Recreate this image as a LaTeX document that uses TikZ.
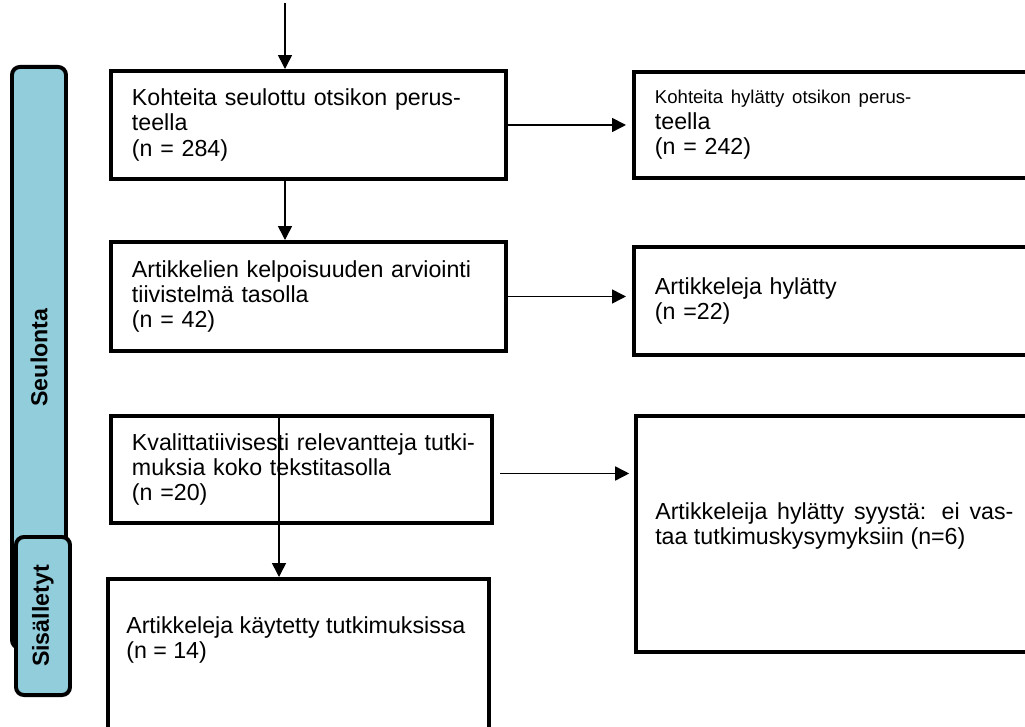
\documentclass[tikz,border=0pt]{standalone}
\usepackage{fontspec}
\setmainfont{Liberation Sans}
\usetikzlibrary{arrows.meta}
\definecolor{sideblue}{RGB}{146,205,220}
\begin{document}
\begin{tikzpicture}[x=0.025cm,y=-0.025cm,
        box/.style={draw,line width=2.8pt,anchor=north west,inner xsep=0.525cm,inner ysep=0pt,align=left,font=\fontsize{16.5}{18.1}\selectfont},
        side/.style={draw,line width=2.8pt,fill=sideblue,rounded corners=0.2cm,inner sep=0pt,font=\fontsize{16.5}{18.1}\selectfont\bfseries},
        txt/.style={inner sep=0pt,align=left,font=\fontsize{16.5}{18.1}\selectfont},
        arr/.style={line width=1.1pt,-{Triangle[length=0.35cm,width=0.35cm]}}]
        \useasboundingbox (0,0) rectangle (1025,726);
        \clip (0,0) rectangle (1025,726);
        % phase bars
        \node[side,minimum width=14.525cm,minimum height=1.35cm,rotate=90] (seul) at (39,357.5) {Seulonta};
        \node[side,minimum width=3.95cm,minimum height=1.35cm,rotate=90] (sis) at (43,616) {Sisälletyt};
        % left column
        \node[box,text width=8.825cm,minimum height=2.7cm] (A) at (109,69) {\makebox[8.65cm][s]{Kohteita seulottu otsikon perus-}\\teella\\(n = 284)};
        \node[box,text width=8.825cm,minimum height=2.725cm] (C) at (109,240) {Artikkelien kelpoisuuden arviointi\\tiivistelmä tasolla\\(n = 42)};
        \node[box,text width=8.475cm,minimum height=2.675cm] (E) at (109,414) {\makebox[8.525cm][s]{Kvalittatiivisesti relevantteja tutki-}\\muksia koko tekstitasolla\\(n =20)};
        \node[box,text width=8.475cm,minimum height=4.05cm] (F) at (106,577) {};
        \node[txt,anchor=north west] (Ftxt) at (126,616) {Artikkeleja käytetty tutkimuksissa\\(n = 14)};
        % right column
        \node[box,text width=9.45cm,minimum height=2.65cm] (B) at (632,70) {{\fontsize{13.2}{18.1}\selectfont Kohteita hylätty otsikon perus-}\\teella\\(n = 242)};
        \node[box,text width=9.45cm,minimum height=2.7cm] (D) at (632,245) {Artikkeleja hylätty\\(n =22)};
        \node[box,text width=9.4cm,minimum height=5.9cm] (G) at (634,414) {};
        \node[txt,anchor=north west] (Gtxt) at (655,502) {\makebox[8.95cm][s]{Artikkeleija hylätty syystä: ei vas-}\\taa tutkimuskysymyksiin (n=6)};
        % arrows
        \coordinate (top) at (285,3);
        \coordinate (mid) at (279,416);
        \draw[arr] (top) -- (top |- A.north);
        \draw[arr] (A.south -| top) -- (C.north -| top);
        \draw[arr,shorten >=0.15cm] (A.east) -- (A.east -| B.west);
        \draw[arr,shorten >=0.15cm] (C.east) -- (C.east -| D.west);
        \draw[arr,shorten <=0.15cm,shorten >=0.12cm] ([yshift=-0.1cm]E.east) -- ([yshift=-0.1cm]E.east -| G.west);
        \draw[arr] (mid) -- (mid |- F.north);
\end{tikzpicture}
\end{document}
